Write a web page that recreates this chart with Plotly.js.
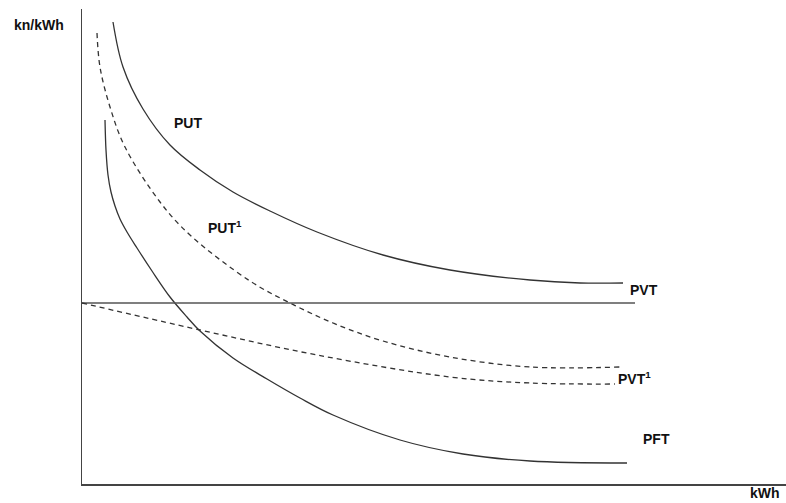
<!DOCTYPE html>
<html>
<head>
<meta charset="utf-8">
<script src="https://cdn.plot.ly/plotly-3.0.1.min.js"></script>
<style>html,body{margin:0;padding:0;background:#fff;}#chart{width:786px;height:503px;}</style>
</head>
<body>
<div id="chart"></div>
<script>
// Quantity (kWh) and unit price (kn/kWh), schematic units
const putX  = [31,41,61,88,118,151,188,235,301,368,448,498,541];
const putY  = [462,417,375,339,314,292,273,252,229,214,204,201,201];
const put1X = [15,18,28,43,78,108,168,208,251,301,368,448,538];
const put1Y = [451,417,377,337,282,249,203,181,161,143,127,117,117];
const pftX  = [23,24,26,29,33,38,45,55,70,88,105,118,151,185,218,251,318,381,448,545];
const pftY  = [364,334,309,292,278,265,252,236,213,187,167,153,126,105,86,69,44,30,23,21];
const pvtX  = [0,553];
const pvtY  = [181,181];
const pvt1X = [0,118,235,368,448,533];
const pvt1Y = [181,154,129,107,101,100];

const lineCol = '#333333';
const solid = {color: lineCol, width: 1.3, shape: 'spline', smoothing: 1};
const dashed = {color: lineCol, width: 1.3, dash: '5px,4px', shape: 'spline', smoothing: 1};

const traces = [
  {x: putX, y: putY, mode: 'lines', line: solid, name: 'PUT'},
  {x: put1X, y: put1Y, mode: 'lines', line: dashed, name: 'PUT1'},
  {x: pftX, y: pftY, mode: 'lines', line: solid, name: 'PFT'},
  {x: pvtX, y: pvtY, mode: 'lines', line: {color: '#555555', width: 1.3}, name: 'PVT'},
  {x: pvt1X, y: pvt1Y, mode: 'lines', line: dashed, name: 'PVT1'}
];

const fnt = {family: 'Liberation Sans, Arial, sans-serif', size: 14, color: '#111111'};
function lab(text, x, y, ref) {
  return {text: '<b>' + text + '</b>', x: x, y: y, xref: ref ? 'paper' : 'x', yref: ref ? 'paper' : 'y',
          showarrow: false, xanchor: 'left', yanchor: 'middle', font: fnt, borderpad: 0};
}

const layout = {
  width: 786, height: 503,
  margin: {l: 82, r: 0, t: 9, b: 19, pad: 0},
  paper_bgcolor: '#ffffff', plot_bgcolor: '#ffffff',
  showlegend: false,
  xaxis: {range: [0, 704], showline: true, linecolor: '#444444', linewidth: 1.5,
          showgrid: false, zeroline: false, showticklabels: false, ticks: ''},
  yaxis: {range: [0, 475], showline: true, linecolor: '#444444', linewidth: 1.5,
          showgrid: false, zeroline: false, showticklabels: false, ticks: ''},
  annotations: [
    lab('kn/kWh', -0.098, 0.966, true),
    lab('PUT', 91, 361),
    lab('PUT<sup>1</sup>', 125, 257),
    lab('PVT', 547, 194),
    lab('PVT<sup>1</sup>', 535, 106),
    lab('PFT', 560, 45),
    lab('kWh', 0.948, -0.019, true)
  ]
};

Plotly.newPlot('chart', traces, layout, {staticPlot: true, displayModeBar: false});
</script>
</body>
</html>
